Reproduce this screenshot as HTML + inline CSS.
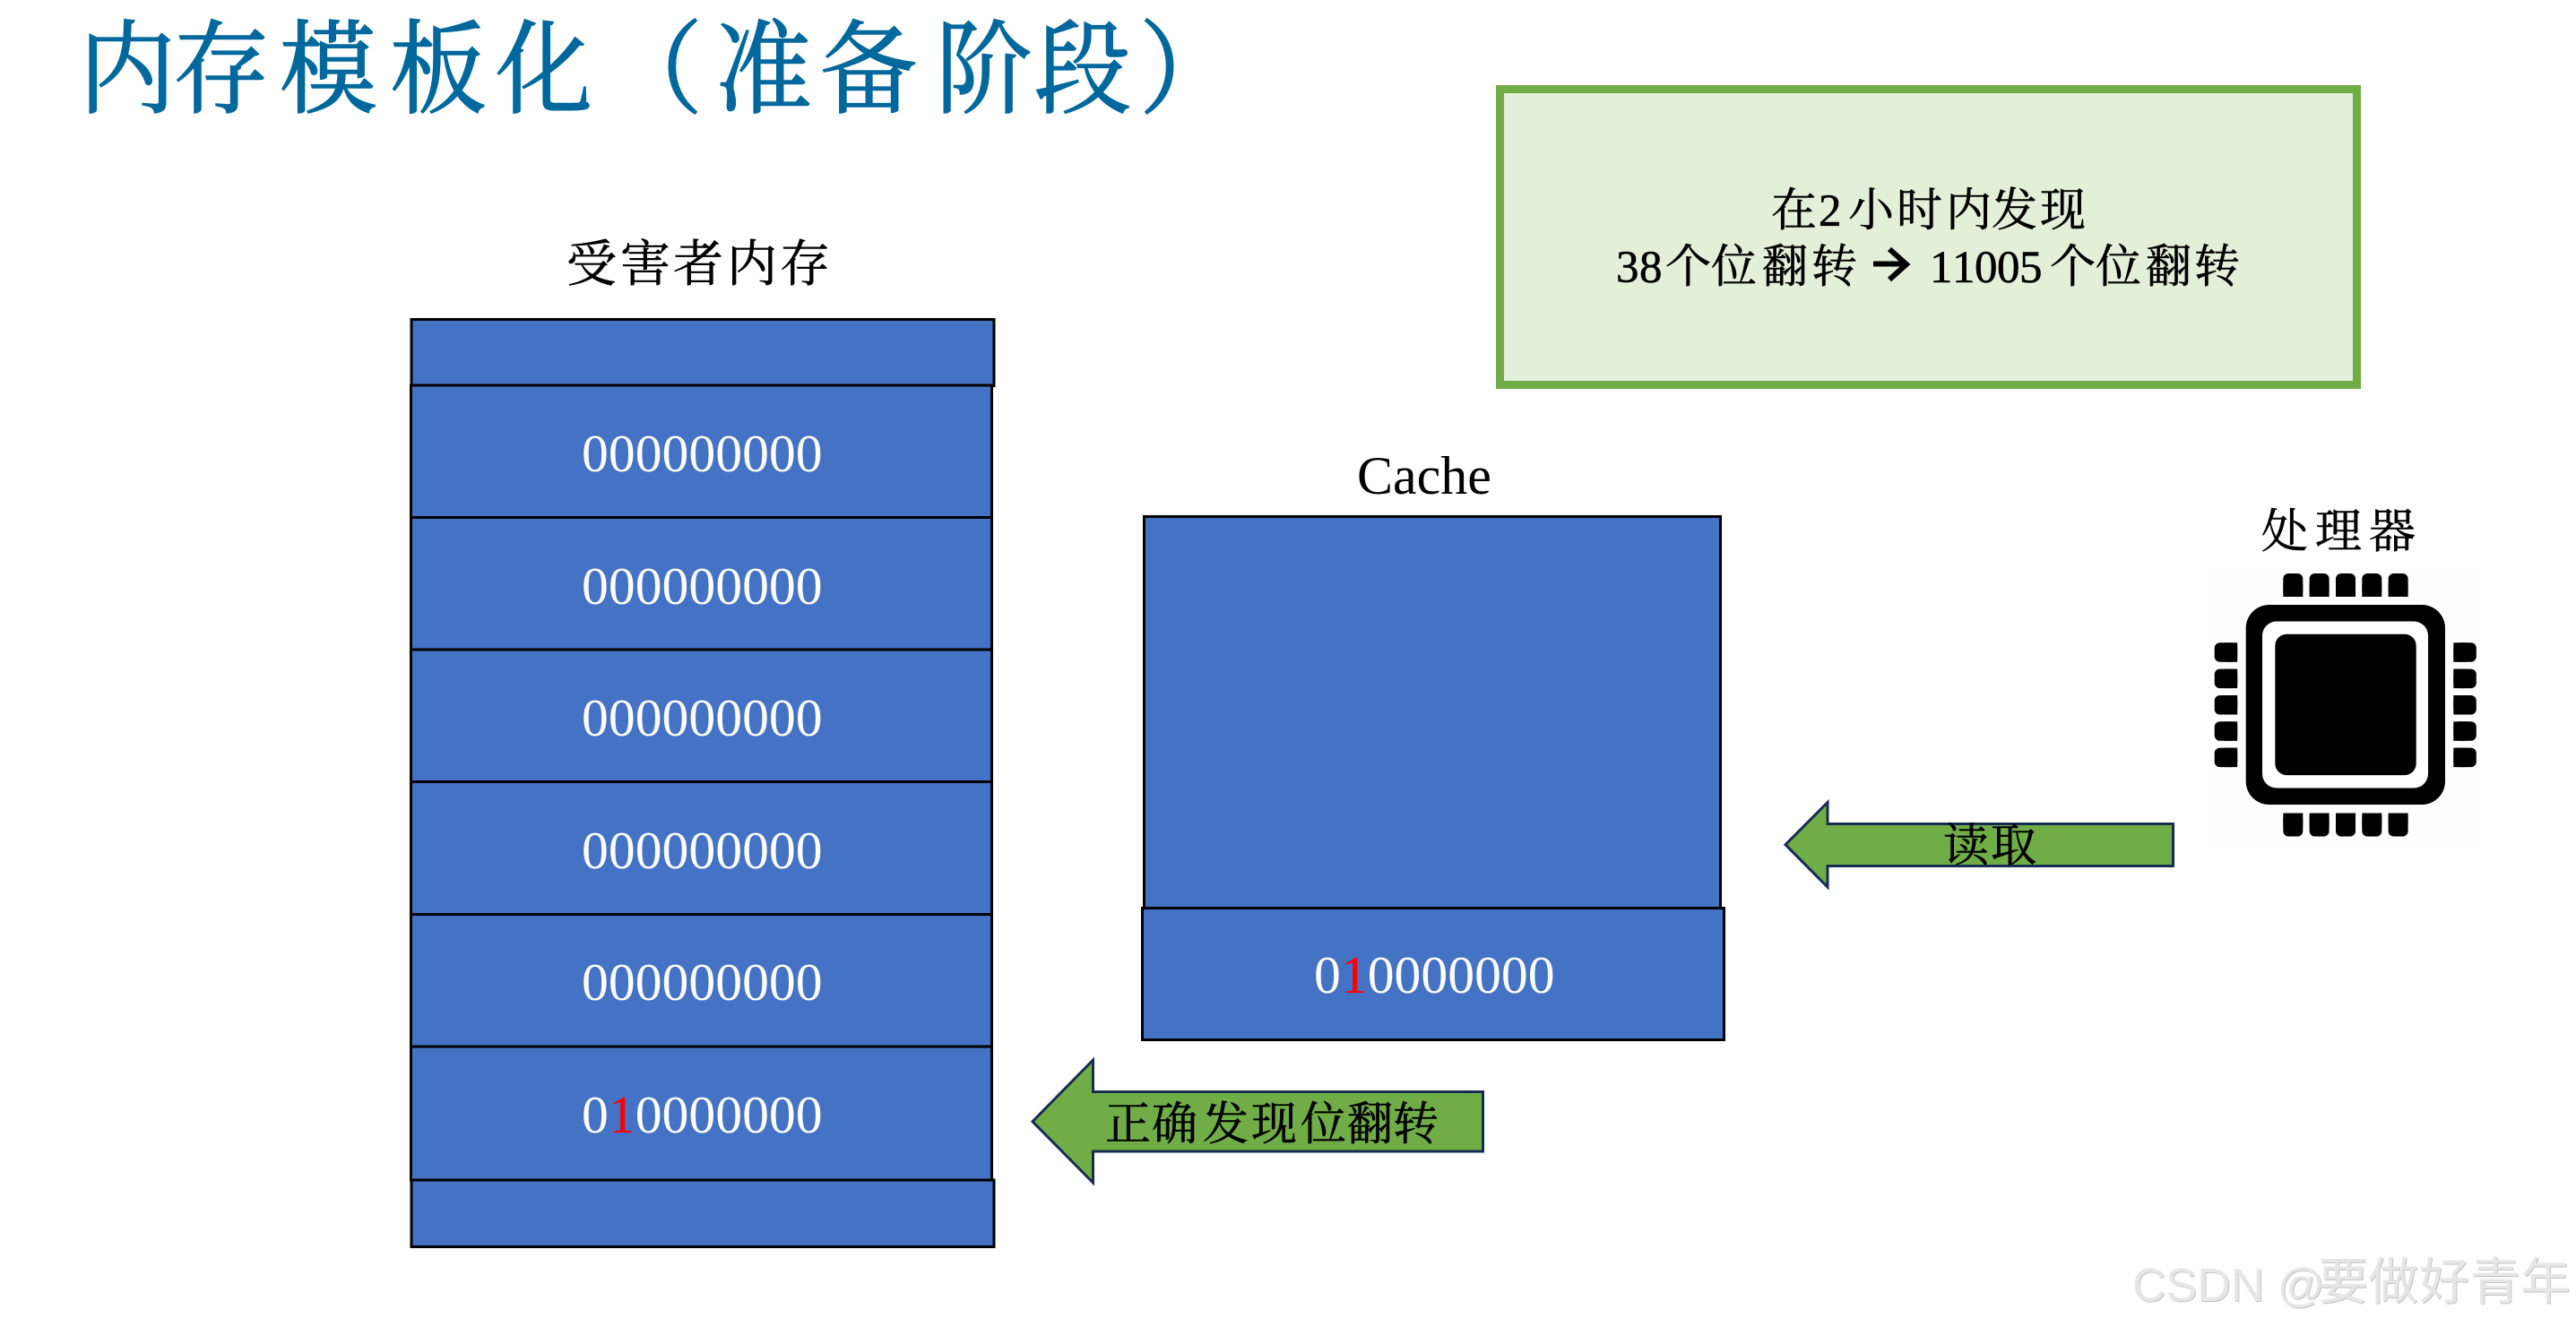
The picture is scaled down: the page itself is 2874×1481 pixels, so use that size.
<!DOCTYPE html>
<html><head><meta charset="utf-8"><title>内存模板化</title>
<style>
html,body{margin:0;padding:0;background:#fff;width:2874px;height:1481px;overflow:hidden}
svg{display:block}
.k{font-family:"Liberation Serif","Noto Serif CJK SC",serif;stroke:#000;stroke-width:.6px}
.z{font-family:"Liberation Serif",serif;font-size:59.700px;fill:#fff}
</style></head><body>
<svg width="2874" height="1481" viewBox="0 0 2874 1481" xmlns="http://www.w3.org/2000/svg">
<rect width="2874" height="1481" fill="#fff"/>
<text class="k" style="stroke:#00689d;stroke-width:1.500px" transform="translate(0,117) scale(1,1.05)" y="0" x="88 193 312 435 553 676 798 915 1044 1154 1271" font-size="108" fill="#00689d">内存模板化（准备阶段）</text>
<text class="k" y="314" x="632 692 751 811 870" font-size="56" fill="#000">受害者内存</text>

<!-- memory -->
<g fill="#4472c4" stroke="#000" stroke-width="3">
<rect x="459" y="356.500" width="650" height="74"/>
<rect x="459" y="1317" width="650" height="74.500"/>
<rect x="458.500" y="430" width="648" height="147.500"/>
<rect x="458.500" y="577.500" width="648" height="147.500"/>
<rect x="458.500" y="725" width="648" height="147.500"/>
<rect x="458.500" y="872.500" width="648" height="148"/>
<rect x="458.500" y="1020.500" width="648" height="147.500"/>
<rect x="458.500" y="1168" width="648" height="149"/>
</g>
<g class="z">
<text class="z" x="649" y="526">000000000</text>
<text class="z" x="649" y="674">000000000</text>
<text class="z" x="649" y="821">000000000</text>
<text class="z" x="649" y="969">000000000</text>
<text class="z" x="649" y="1116">000000000</text>
<text class="z" x="649" y="1264">0<tspan fill="#f00">1</tspan>0000000</text>
</g>

<!-- cache -->
<text x="1514" y="551" font-family="'Liberation Serif',serif" font-size="60" fill="#000">Cache</text>
<rect x="1276.500" y="576.500" width="643" height="437" fill="#4472c4" stroke="#000" stroke-width="3"/>
<rect x="1274.500" y="1013.500" width="649" height="147" fill="#4472c4" stroke="#000" stroke-width="3"/>
<text class="z" x="1466" y="1108">0<tspan fill="#f00">1</tspan>0000000</text>

<!-- green box -->
<rect x="1673.500" y="99.500" width="956" height="330" fill="#e2efd9" stroke="#70ad47" stroke-width="9"/>
<g class="k" font-size="51" fill="#000">
<text y="252" x="1976 2029 2062 2116 2171 2222 2276">在2小时内发现</text>
<text y="315" x="1803 1829 1858 1909 1966 2021">38个位翻转</text>
<text y="315" x="2153 2178 2203 2228 2253 2287 2338 2394 2448">11005个位翻转</text>
</g>
<path d="M2090 294.500H2126" stroke="#000" stroke-width="6" fill="none"/>
<path d="M2108 278L2127 295L2108 312" stroke="#000" stroke-width="6" fill="none"/>

<!-- arrows -->
<polygon points="1152,1251.700 1219.500,1183 1219.500,1218.500 1654.500,1218.500 1654.500,1285 1219.500,1285 1219.500,1320" fill="#70ad47" stroke="#172c51" stroke-width="3"/>
<text class="k" y="1272" x="1233 1285 1342 1396 1451 1503 1554" font-size="51" fill="#000">正确发现位翻转</text>
<polygon points="1992,942.700 2039,895.500 2039,919.500 2424.500,919.500 2424.500,966.500 2039,966.500 2039,990" fill="#70ad47" stroke="#172c51" stroke-width="3"/>
<text class="k" y="961" x="2168 2221" font-size="51" fill="#000">读取</text>

<!-- CPU -->
<rect x="2465" y="637" width="302" height="304" fill="#fdfefd"/>
<text class="k" y="611" x="2523 2583 2643" font-size="52" fill="#000">处理器</text>
<rect x="2505.700" y="675" width="222.300" height="223" rx="26" fill="#000"/>
<rect x="2524" y="693.500" width="185" height="186" rx="16" fill="#fff"/>
<rect x="2538.300" y="707.700" width="157.400" height="157.400" rx="13" fill="#000"/>
<g fill="#000">
<rect x="2547.300" y="640" width="22" height="26" rx="6"/><rect x="2576.600" y="640" width="22" height="26" rx="6"/><rect x="2606" y="640" width="22" height="26" rx="6"/><rect x="2635.300" y="640" width="22" height="26" rx="6"/><rect x="2664.600" y="640" width="22" height="26" rx="6"/>
<rect x="2547.300" y="652" width="22" height="14"/><rect x="2576.600" y="652" width="22" height="14"/><rect x="2606" y="652" width="22" height="14"/><rect x="2635.300" y="652" width="22" height="14"/><rect x="2664.600" y="652" width="22" height="14"/>
<rect x="2547.300" y="907.500" width="22" height="26" rx="6"/><rect x="2576.600" y="907.500" width="22" height="26" rx="6"/><rect x="2606" y="907.500" width="22" height="26" rx="6"/><rect x="2635.300" y="907.500" width="22" height="26" rx="6"/><rect x="2664.600" y="907.500" width="22" height="26" rx="6"/>
<rect x="2547.300" y="907.500" width="22" height="14"/><rect x="2576.600" y="907.500" width="22" height="14"/><rect x="2606" y="907.500" width="22" height="14"/><rect x="2635.300" y="907.500" width="22" height="14"/><rect x="2664.600" y="907.500" width="22" height="14"/>
<rect x="2470.700" y="717.300" width="25.500" height="21.500" rx="6"/><rect x="2470.700" y="746.600" width="25.500" height="21.500" rx="6"/><rect x="2470.700" y="776" width="25.500" height="21.500" rx="6"/><rect x="2470.700" y="805.300" width="25.500" height="21.500" rx="6"/><rect x="2470.700" y="834.600" width="25.500" height="21.500" rx="6"/>
<rect x="2482" y="717.300" width="14.200" height="21.500"/><rect x="2482" y="746.600" width="14.200" height="21.500"/><rect x="2482" y="776" width="14.200" height="21.500"/><rect x="2482" y="805.300" width="14.200" height="21.500"/><rect x="2482" y="834.600" width="14.200" height="21.500"/>
<rect x="2737.300" y="717.300" width="25.500" height="21.500" rx="6"/><rect x="2737.300" y="746.600" width="25.500" height="21.500" rx="6"/><rect x="2737.300" y="776" width="25.500" height="21.500" rx="6"/><rect x="2737.300" y="805.300" width="25.500" height="21.500" rx="6"/><rect x="2737.300" y="834.600" width="25.500" height="21.500" rx="6"/>
<rect x="2737.300" y="717.300" width="14.200" height="21.500"/><rect x="2737.300" y="746.600" width="14.200" height="21.500"/><rect x="2737.300" y="776" width="14.200" height="21.500"/><rect x="2737.300" y="805.300" width="14.200" height="21.500"/><rect x="2737.300" y="834.600" width="14.200" height="21.500"/>
</g>

<!-- watermark -->
<g font-family="'Liberation Sans','Noto Sans CJK SC',sans-serif" font-size="52">
<text x="2380" y="1453" fill="#c4c4c4">CSDN @</text>
<text x="2379" y="1452" fill="#e6e6e6">CSDN @</text>
<text x="2587 2643 2700 2757 2813" y="1451" font-size="56" fill="#c4c4c4">要做好青年</text>
<text x="2586 2642 2699 2756 2812" y="1450" font-size="56" fill="#e6e6e6">要做好青年</text>
</g>
</svg>
</body></html>
